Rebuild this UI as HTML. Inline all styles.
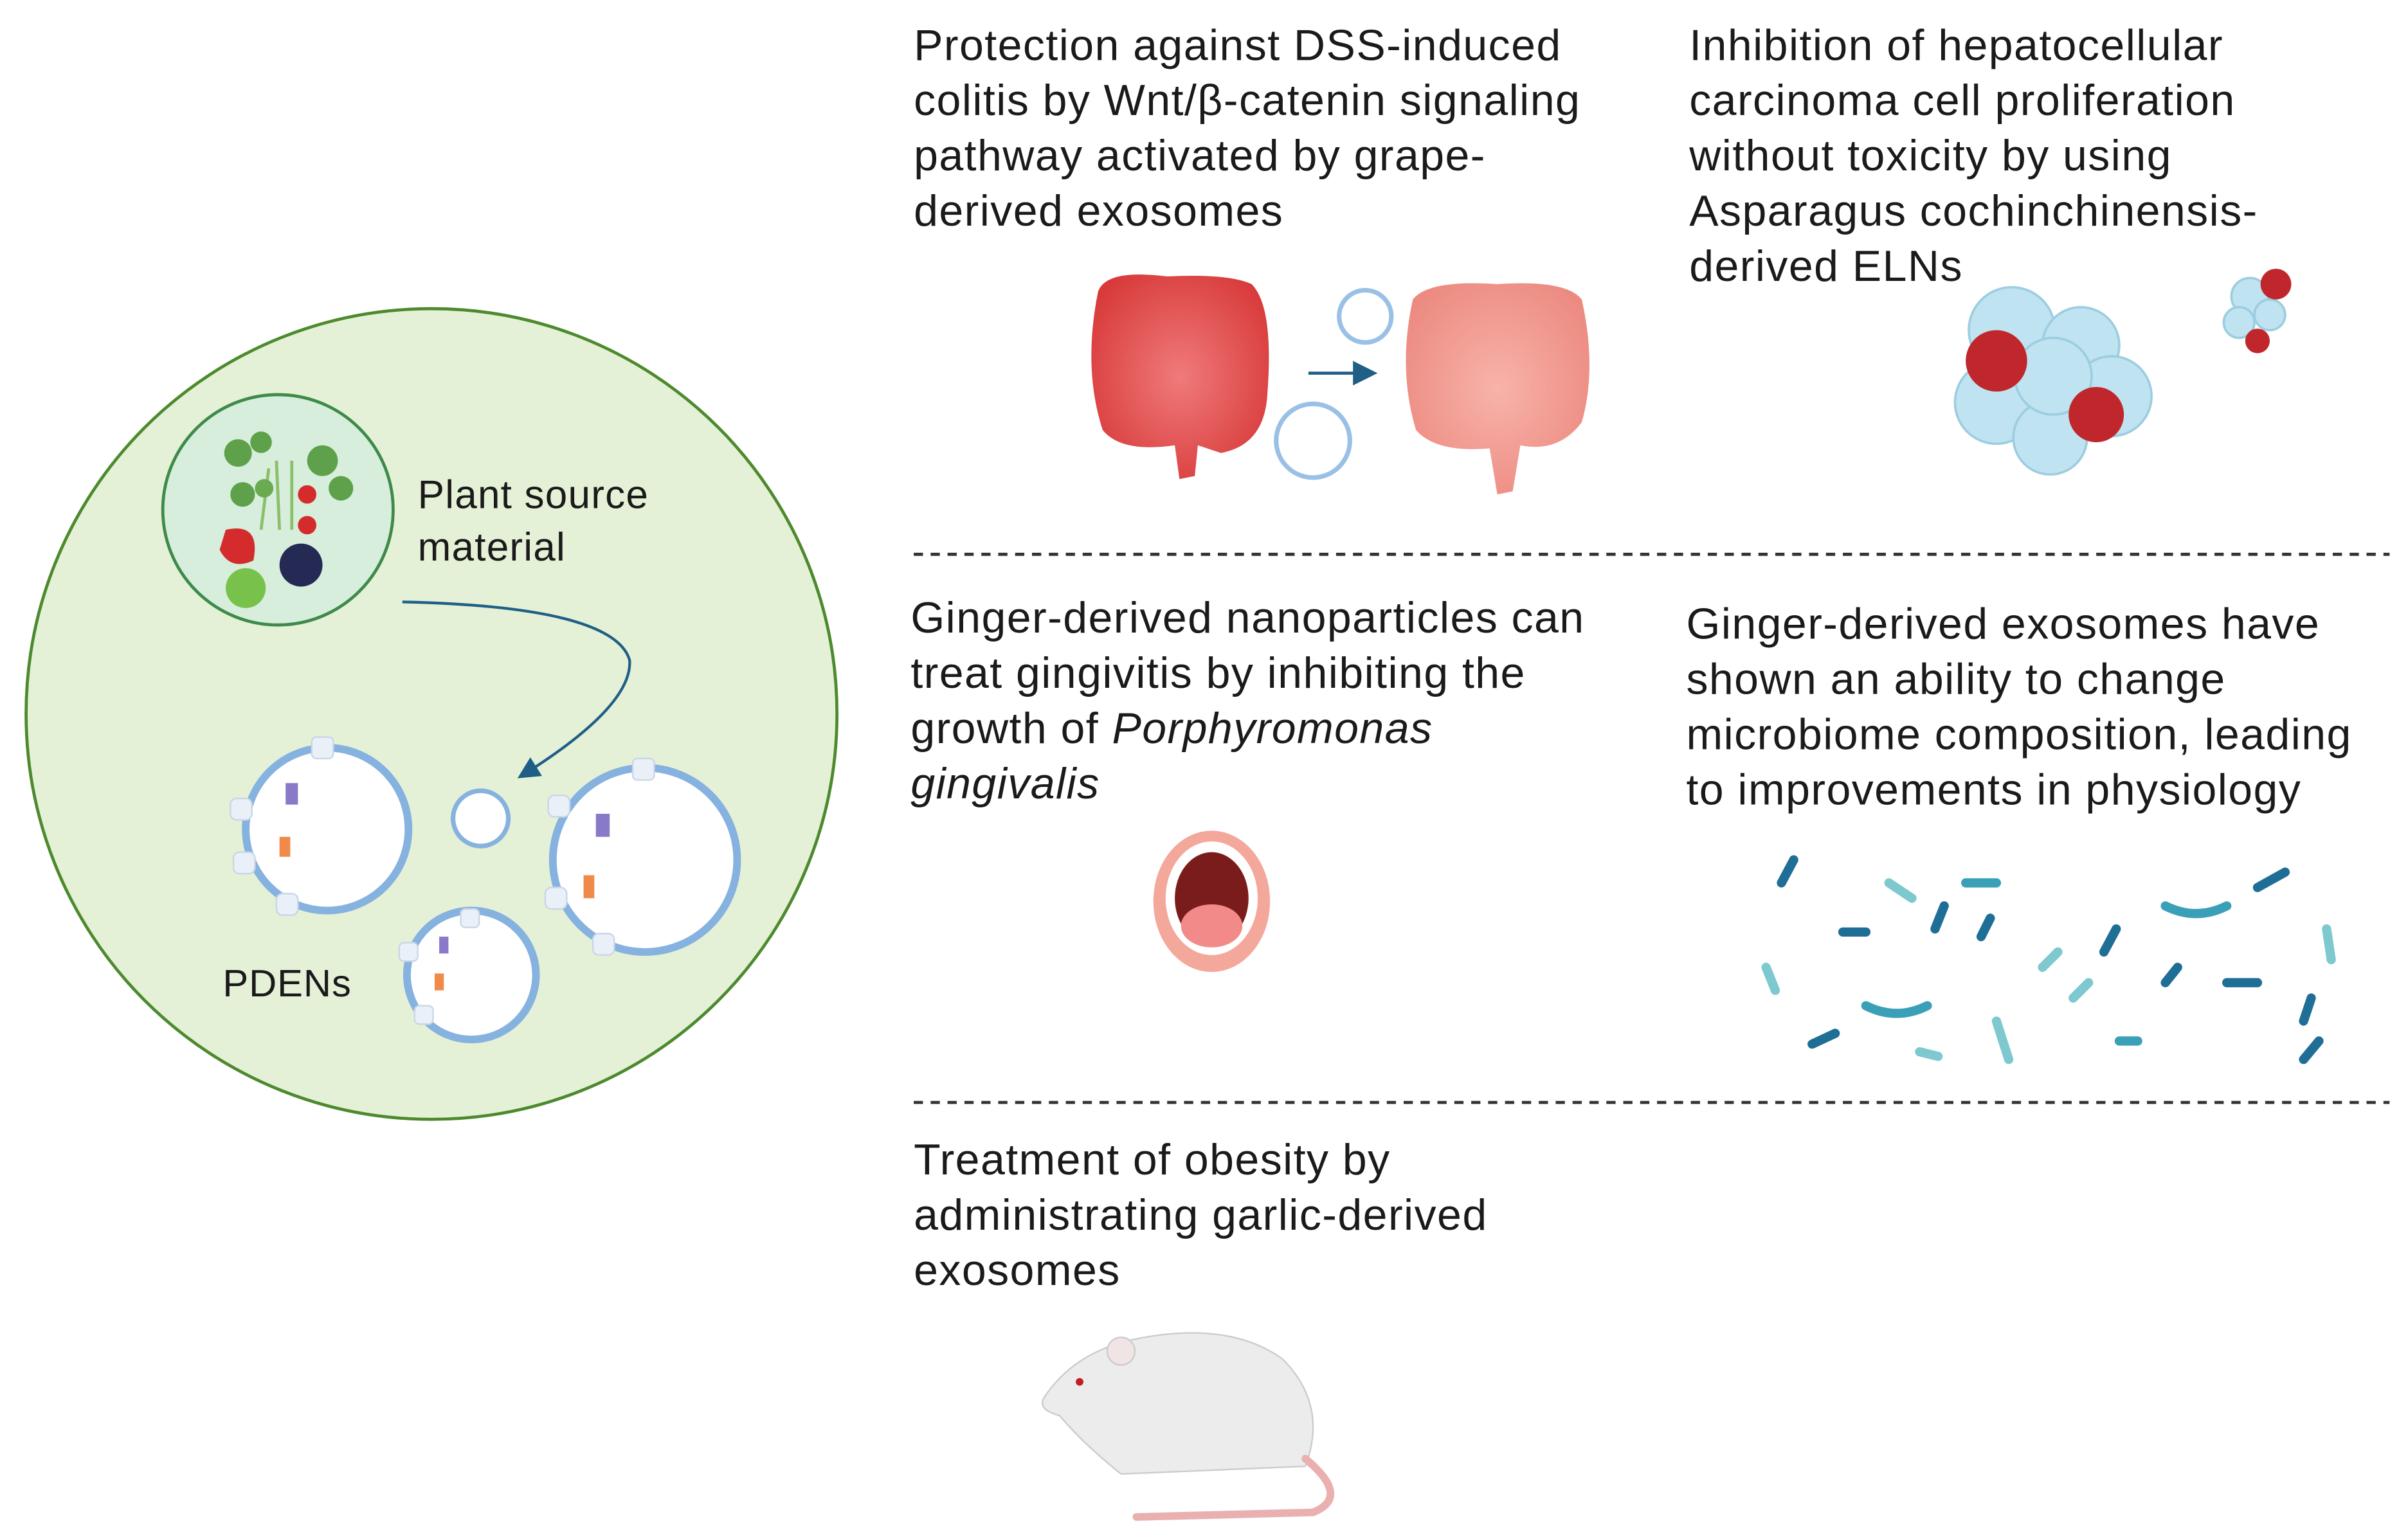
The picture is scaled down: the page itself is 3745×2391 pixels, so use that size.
<!DOCTYPE html>
<html><head><meta charset="utf-8"><style>
html,body{margin:0;padding:0;background:#fff;}
svg{display:block}
text{font-family:"Liberation Sans",sans-serif;fill:#1a1a1a;}
</style></head><body>
<svg width="3745" height="2391" viewBox="0 0 1568 1001" xmlns="http://www.w3.org/2000/svg">
<defs>
<marker id="ah" markerWidth="8" markerHeight="8" refX="6" refY="4" orient="auto"><path d="M0,0 L8,4 L0,8 z" fill="#1f5f86"/></marker>
<radialGradient id="gr" cx="50%" cy="50%" r="60%"><stop offset="0" stop-color="#f07a7a"/><stop offset="1" stop-color="#d83a3a"/></radialGradient>
<radialGradient id="gp" cx="50%" cy="50%" r="60%"><stop offset="0" stop-color="#f8b3aa"/><stop offset="1" stop-color="#ec8a80"/></radialGradient>
</defs>
<circle cx="281" cy="465" r="264" fill="#e4f1d6" stroke="#4d8a2e" stroke-width="2"/>
<circle cx="181" cy="332" r="75" fill="#d6eedb" stroke="#3e8a4a" stroke-width="2"/>
<g>
<path d="M180 300 L182 345 M175 305 L170 345 M190 300 L190 345" stroke="#8cbf6a" stroke-width="2"/>
<circle cx="155" cy="295" r="9" fill="#5ea14a"/><circle cx="170" cy="288" r="7" fill="#5ea14a"/>
<circle cx="210" cy="300" r="10" fill="#5ea14a"/><circle cx="222" cy="318" r="8" fill="#5ea14a"/>
<circle cx="158" cy="322" r="8" fill="#5ea14a"/><circle cx="172" cy="318" r="6" fill="#6aab52"/>
<path d="M147 345 Q170 340 165 365 Q150 372 143 358 Z" fill="#d42c2c"/>
<circle cx="200" cy="322" r="6" fill="#d42c2c"/><circle cx="200" cy="342" r="6" fill="#d42c2c"/>
<circle cx="196" cy="368" r="14" fill="#252a55"/>
<circle cx="160" cy="383" r="13" fill="#78c24c"/>
</g>
<text x="272" y="331" font-size="26" letter-spacing="0.5">Plant source</text>
<text x="272" y="365" font-size="26" letter-spacing="0.5">material</text>
<path d="M262 392 Q400 395 410 430 Q412 460 340 505" fill="none" stroke="#1f5f86" stroke-width="1.8" marker-end="url(#ah)"/>
<g fill="#fff" stroke="#86b2e0" stroke-width="5">
<circle cx="213" cy="540" r="53"/><circle cx="420" cy="560" r="60"/><circle cx="307" cy="635" r="42"/><circle cx="313" cy="533" r="18" stroke-width="3"/>
</g>
<g fill="#eaf0f8" stroke="#c9d6e8" stroke-width="1">
<rect x="203" y="480" width="14" height="14" rx="3"/><rect x="150" y="520" width="14" height="14" rx="4"/><rect x="152" y="555" width="14" height="14" rx="4"/><rect x="180" y="582" width="14" height="14" rx="4"/>
<rect x="412" y="494" width="14" height="14" rx="3"/><rect x="357" y="518" width="14" height="14" rx="4"/><rect x="355" y="578" width="14" height="14" rx="4"/><rect x="386" y="608" width="14" height="14" rx="4"/>
<rect x="300" y="592" width="12" height="12" rx="3"/><rect x="260" y="614" width="12" height="12" rx="3"/><rect x="270" y="655" width="12" height="12" rx="3"/>
</g>
<g><rect x="186" y="510" width="8" height="14" fill="#8a78c8"/><rect x="182" y="545" width="7" height="13" fill="#f08a4a"/><rect x="388" y="530" width="9" height="15" fill="#8a78c8"/><rect x="380" y="570" width="7" height="15" fill="#f08a4a"/><rect x="286" y="610" width="6" height="11" fill="#8a78c8"/><rect x="283" y="634" width="6" height="11" fill="#f08a4a"/></g>
<text x="145" y="649" font-size="25" letter-spacing="0.4">PDENs</text>
<line x1="595" y1="361" x2="1556" y2="361" stroke="#333" stroke-width="2" stroke-dasharray="6,5"/>
<line x1="595" y1="718" x2="1556" y2="718" stroke="#333" stroke-width="2" stroke-dasharray="6,5"/>
<g font-size="28.5" letter-spacing="0.6">
<text x="595" y="39">Protection against DSS-induced</text>
<text x="595" y="75">colitis by Wnt/β-catenin signaling</text>
<text x="595" y="111">pathway activated by grape-</text>
<text x="595" y="147">derived exosomes</text>
<text x="1100" y="39">Inhibition of hepatocellular</text>
<text x="1100" y="75">carcinoma cell proliferation</text>
<text x="1100" y="111">without toxicity by using</text>
<text x="1100" y="147">Asparagus cochinchinensis-</text>
<text x="1100" y="183">derived ELNs</text>
<text x="593" y="412">Ginger-derived nanoparticles can</text>
<text x="593" y="448">treat gingivitis by inhibiting the</text>
<text x="593" y="484">growth of <tspan font-style="italic">Porphyromonas</tspan></text>
<text x="593" y="520" font-style="italic">gingivalis</text>
<text x="1098" y="416">Ginger-derived exosomes have</text>
<text x="1098" y="452">shown an ability to change</text>
<text x="1098" y="488">microbiome composition, leading</text>
<text x="1098" y="524">to improvements in physiology</text>
<text x="595" y="765">Treatment of obesity by</text>
<text x="595" y="801">administrating garlic-derived</text>
<text x="595" y="837">exosomes</text>
</g>
<path d="M715 190 Q720 175 760 180 Q800 178 815 185 Q830 200 825 260 Q822 290 795 295 L780 290 L778 310 L768 312 L765 290 Q730 295 718 280 Q705 240 715 190Z" fill="url(#gr)"/>
<path d="M920 195 Q930 182 975 185 Q1020 182 1030 195 Q1040 240 1030 275 Q1015 295 990 290 L985 320 L975 322 L970 292 Q935 295 922 280 Q910 240 920 195Z" fill="url(#gp)"/>
<line x1="852" y1="243" x2="893" y2="243" stroke="#1f5f86" stroke-width="2" marker-end="url(#ah)"/>
<circle cx="889" cy="206" r="17" fill="#fff" stroke="#9bc0e6" stroke-width="3"/>
<circle cx="855" cy="287" r="24" fill="#fff" stroke="#9bc0e6" stroke-width="3"/>
<g fill="#bfe3f0" stroke="#9ccde0" stroke-width="1.5">
<circle cx="1310" cy="215" r="28"/><circle cx="1355" cy="225" r="25"/><circle cx="1300" cy="262" r="27"/><circle cx="1375" cy="258" r="26"/><circle cx="1335" cy="285" r="24"/><circle cx="1337" cy="245" r="25"/>
<circle cx="1465" cy="193" r="12"/><circle cx="1478" cy="205" r="10"/><circle cx="1458" cy="210" r="10"/>
</g>
<circle cx="1300" cy="235" r="20" fill="#c0272d"/><circle cx="1365" cy="270" r="18" fill="#c0272d"/>
<circle cx="1482" cy="185" r="10" fill="#c0272d"/><circle cx="1470" cy="222" r="8" fill="#c0272d"/>
<ellipse cx="789" cy="587" rx="38" ry="46" fill="#f4a89c"/>
<ellipse cx="789" cy="585" rx="30" ry="37" fill="#fff"/>
<ellipse cx="789" cy="585" rx="24" ry="30" fill="#7a1c1c"/>
<ellipse cx="789" cy="603" rx="20" ry="14" fill="#f28a8a"/>
<g stroke-width="6" stroke-linecap="round" fill="none">
<path d="M1160 575 L1168 560" stroke="#1f6e96"/><path d="M1280 575 L1300 575" stroke="#3aa0b8"/><path d="M1200 607 L1215 607" stroke="#1f6e96"/><path d="M1260 605 L1266 590" stroke="#1f6e96"/>
<path d="M1290 610 L1296 598" stroke="#1f6e96"/><path d="M1370 620 L1378 605" stroke="#1f6e96"/><path d="M1410 590 Q1430 600 1450 590" stroke="#3aa0b8"/><path d="M1470 578 L1488 568" stroke="#1f6e96"/>
<path d="M1150 630 L1156 645" stroke="#7ec8d0"/><path d="M1215 655 Q1235 665 1255 655" stroke="#3aa0b8"/><path d="M1300 665 L1308 690" stroke="#7ec8d0"/><path d="M1180 680 L1195 673" stroke="#1f6e96"/>
<path d="M1380 678 L1392 678" stroke="#3aa0b8"/><path d="M1450 640 L1470 640" stroke="#1f6e96"/><path d="M1500 665 L1505 650" stroke="#1f6e96"/><path d="M1500 690 L1510 678" stroke="#1f6e96"/>
<path d="M1350 650 L1360 640" stroke="#7ec8d0"/><path d="M1410 640 L1418 630" stroke="#1f6e96"/><path d="M1230 575 L1245 585" stroke="#7ec8d0"/><path d="M1515 605 L1518 625" stroke="#7ec8d0"/>
<path d="M1340 620 L1330 630" stroke="#7ec8d0"/><path d="M1250 685 L1262 688" stroke="#7ec8d0"/>
</g>
<path d="M680 910 Q700 880 740 872 Q800 860 835 885 Q865 915 850 955 L730 960 Q705 940 690 922 Q675 918 680 910Z" fill="#ececec" stroke="#ccc"/>
<circle cx="730" cy="880" r="9" fill="#f1e4e4" stroke="#ccc"/>
<circle cx="703" cy="900" r="2.5" fill="#c02020"/>
<path d="M850 950 Q880 975 855 985 L740 988" fill="none" stroke="#eab0b0" stroke-width="5" stroke-linecap="round"/>
</svg>
</body></html>
